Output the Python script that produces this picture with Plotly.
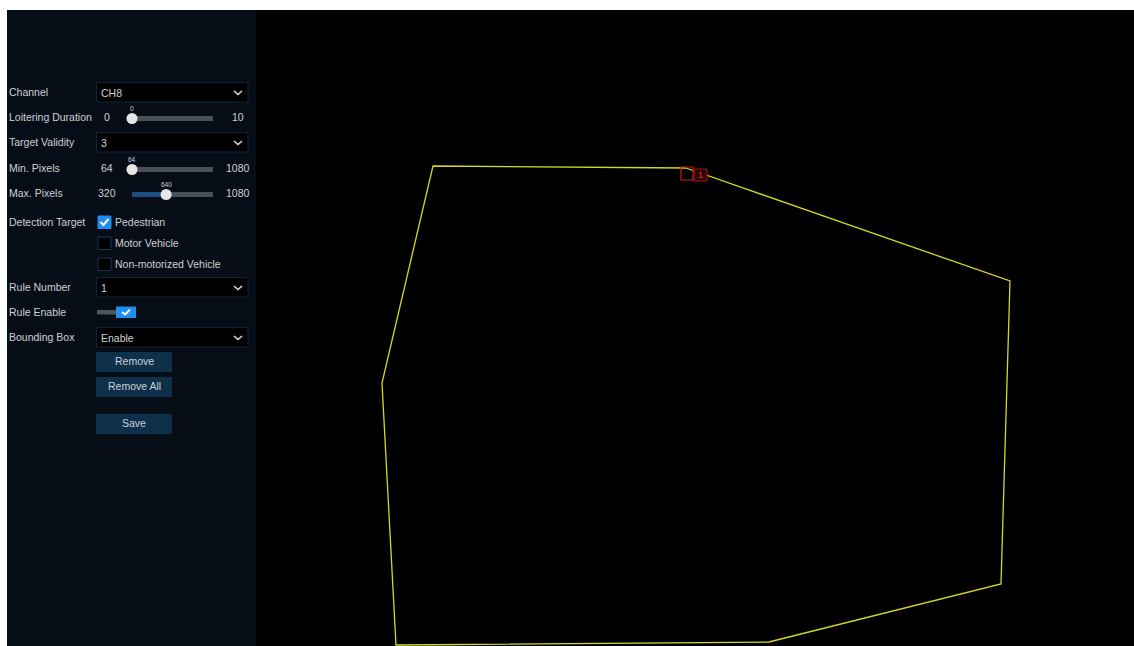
import plotly.graph_objects as go

W, H = 1134, 646

# detection zone (rule 1), vertices in screen pixels
zone_x = [686, 1010, 1001, 769, 396, 382, 433, 686]
zone_y = [168, 281, 584, 642, 645, 383, 166, 168]
zone_rule = '1'

# settings panel values
dropdown_names = ['Channel', 'Target Validity', 'Rule Number', 'Bounding Box']
dropdown_values = ['CH8', '3', '1', 'Enable']

slider_names = ['Loitering Duration', 'Min. Pixels', 'Max. Pixels']
slider_min = [0, 64, 320]
slider_max = [10, 1080, 1080]
slider_value = [0, 64, 640]

target_names = ['Pedestrian', 'Motor Vehicle', 'Non-motorized Vehicle']
target_checked = [True, False, False]

rule_enable = True
button_names = ['Remove', 'Remove All', 'Save']

# layout (pixel positions)
FONT = 'Liberation Sans, Arial, sans-serif'
TXT = '#cdd1d6'
BLUE = '#1e8fef'
row_y = {'Channel': 92, 'Loitering Duration': 117, 'Target Validity': 142,
         'Min. Pixels': 168, 'Max. Pixels': 193, 'Detection Target': 222,
         'Rule Number': 287, 'Rule Enable': 312, 'Bounding Box': 337}
target_y = [222, 243, 264]
button_y = [362, 387, 424]
track_x0, track_x1 = 132, 213

fig = go.Figure()
shapes = []
ann = []


def label(x, y, text, size=10.5, color=TXT, anchor='left'):
    # annotations carry ~2px of padding, pull left-anchored text back
    if anchor == 'left':
        x -= 2
    ann.append(dict(x=x, y=y, text=text, showarrow=False, xanchor=anchor,
                    yanchor='middle', font=dict(family=FONT, size=size, color=color)))


# backgrounds
shapes.append(dict(type='rect', x0=7, x1=256, y0=10, y1=H, fillcolor='#060d16',
                   line_width=0, layer='below'))
shapes.append(dict(type='rect', x0=256, x1=W, y0=10, y1=H, fillcolor='#000000',
                   line_width=0, layer='below'))

# field labels
for name, y in row_y.items():
    label(9, y, name)

# dropdowns
for name, val in zip(dropdown_names, dropdown_values):
    y = row_y[name]
    shapes.append(dict(type='rect', x0=96.5, x1=248, y0=y - 9.5, y1=y + 10,
                       fillcolor='#000000', line=dict(color='#0f2438', width=1), layer='below'))
    label(101, y + 1, val)
    shapes.append(dict(type='path', path=f'M 234,{y - 1} L 238,{y + 2.5} L 242,{y - 1}',
                       line=dict(color='#d8dce0', width=1.6), layer='below'))

# sliders
thumb_x, thumb_y = [], []
for name, lo, hi, v in zip(slider_names, slider_min, slider_max, slider_value):
    y = row_y[name] + 1.5
    tx = track_x0 + (v - lo) / (hi - lo) * (track_x1 - track_x0)
    shapes.append(dict(type='rect', x0=track_x0, x1=track_x1, y0=y - 2.5, y1=y + 2.5,
                       fillcolor='#4b4f56', line_width=0, layer='below'))
    shapes.append(dict(type='rect', x0=track_x0, x1=tx, y0=y - 2.5, y1=y + 2.5,
                       fillcolor='#1c4f80', line_width=0, layer='below'))
    thumb_x.append(tx)
    thumb_y.append(y)
    label(107, row_y[name], str(lo), anchor='center')
    label(238, row_y[name], str(hi), anchor='center')
    label(tx, y - 10, str(v), size=6.5, anchor='center')

fig.add_trace(go.Scatter(x=thumb_x, y=thumb_y, mode='markers',
                         marker=dict(size=11, color='#e6e6e6', line_width=0),
                         hoverinfo='skip', showlegend=False))

# detection target checkboxes
for name, checked, y in zip(target_names, target_checked, target_y):
    shapes.append(dict(type='rect', x0=98, x1=111, y0=y - 6, y1=y + 6.5,
                       fillcolor=BLUE if checked else '#000000',
                       line=dict(color=BLUE if checked else '#1d3650', width=1), layer='below'))
    if checked:
        shapes.append(dict(type='path', path=f'M 100.5,{y} L 103.5,{y + 3} L 108.5,{y - 3}',
                           line=dict(color='white', width=2), layer='below'))
    label(115, y, name)

# rule enable toggle
ye = row_y['Rule Enable']
shapes.append(dict(type='rect', x0=97, x1=118, y0=ye - 2, y1=ye + 2.5,
                   fillcolor='#50545c', line_width=0, layer='below'))
shapes.append(dict(type='rect', x0=116, x1=136, y0=ye - 5.5, y1=ye + 6,
                   fillcolor=BLUE if rule_enable else '#50545c', line_width=0, layer='below'))
shapes.append(dict(type='path', path=f'M 122,{ye} L 125,{ye + 2.5} L 130,{ye - 2.5}',
                   line=dict(color='white', width=1.8), layer='below'))

# buttons
for name, y in zip(button_names, button_y):
    shapes.append(dict(type='rect', x0=96, x1=172, y0=y - 10, y1=y + 10,
                       fillcolor='#0d304b', line_width=0, layer='below'))
    label(134, y - 1, name, anchor='center')

# zone polygon
fig.add_trace(go.Scatter(x=zone_x, y=zone_y, mode='lines',
                         line=dict(color='#d8d724', width=1.3),
                         hoverinfo='skip', showlegend=False))

# first vertex handle and rule number tag
vx, vy = zone_x[0], zone_y[0]
shapes.append(dict(type='rect', x0=vx - 5, x1=vx + 7, y0=vy - 1, y1=vy + 12,
                   line=dict(color='#d01818', width=1.2), layer='above'))
shapes.append(dict(type='rect', x0=vx + 8, x1=vx + 21, y0=vy + 1, y1=vy + 13,
                   fillcolor='#2a0404', line=dict(color='#b01010', width=1), layer='above'))
label(vx + 14.5, vy + 7, zone_rule, size=9, color='#e03a3a', anchor='center')

fig.update_layout(
    width=W, height=H,
    margin=dict(l=0, r=0, t=0, b=0),
    paper_bgcolor='white', plot_bgcolor='white',
    xaxis=dict(range=[0, W], visible=False, fixedrange=True),
    yaxis=dict(range=[H, 0], visible=False, fixedrange=True),
    shapes=shapes, annotations=ann,
    showlegend=False,
)

fig.write_html('out.html', config={'displayModeBar': False},
               post_script="document.body.style.margin='0';document.body.style.overflow='hidden';")
